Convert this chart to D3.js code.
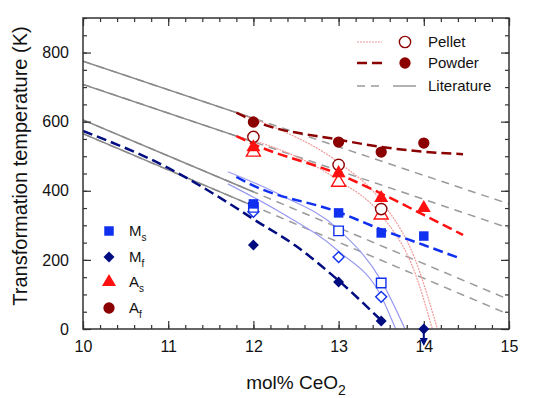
<!DOCTYPE html>
<html>
<head>
<meta charset="utf-8">
<script src="https://cdn.jsdelivr.net/npm/d3@7"></script>
<style>
  body { margin: 0; background: #fff; }
  svg { font-family: 'Liberation Sans', Arial, sans-serif; }
</style>
</head>
<body>
<div id="chart"></div>
<script>
// measured compositions (mol% CeO2)
const compositions = [12, 13, 13.5, 14];
const powderMs = [362, 336, 278, 269];
const powderMf = [243, 136, 23, 0];
const powderAs = [526, 451, 379, 350];
const powderAf = [599, 541, 512, 538];

const pelletComp = [12, 13, 13.5];
const pelletMs = [352, 284, 133];
const pelletMf = [339, 208, 93];
const pelletAs = [512, 425, 330];
const pelletAf = [556, 475, 347];

// fitted curves [mol%, K]
const fitPowderAf = [[11.8, 626], [12, 603], [13, 548], [13.5, 527], [14, 513], [14.46, 506]];
const fitPowderAs = [[11.8, 558], [12, 535], [13, 448], [13.5, 392], [14, 330], [14.46, 272]];
const fitPowderMs = [[11.8, 440], [12, 415], [13, 338], [13.5, 288], [14, 243], [14.42, 205]];
const fitPowderMf = [[10, 573], [11, 466], [11.8, 350], [12, 318], [12.5, 240], [13, 140], [13.5, 25]];

const fitPelletAf = [[11.8, 626], [12.3, 578], [13, 482], [13.5, 370], [13.9, 200], [14.16, 0]];
const fitPelletAs = [[11.8, 558], [12.3, 520], [13, 430], [13.5, 330], [13.9, 160], [14.1, 0]];
const fitPelletMs = [[11.7, 455], [12.3, 390], [13, 288], [13.5, 140], [13.78, 0]];
const fitPelletMf = [[11.7, 420], [12.3, 340], [13, 225], [13.5, 95], [13.67, 0]];

// literature lines: value at 10 and at 15 mol%, solid up to litSplit
const litAt10 = [775, 708, 605, 565];
const litAt15 = [362, 292, 85, 42];
const litSplit = 12;

const xTicks = [10, 11, 12, 13, 14, 15];
const yTicks = [0, 200, 400, 600, 800];

const colAf = '#8b0000', colAs = '#ff1010', colMs = '#1030f0', colMf = '#000c80';
const colPelletRed = '#f29a9a', colPelletBlue = '#9a9af2', colLit = '#9a9a9a';

const W = 539, H = 398;
const svg = d3.select('#chart').append('svg').attr('width', W).attr('height', H);

const x = d3.scaleLinear().domain([10, 15]).range([83, 509]);
const y = d3.scaleLinear().domain([0, 900]).range([329, 18]);

const defs = svg.append('defs');
defs.append('clipPath').attr('id', 'plotClip')
  .append('rect').attr('x', x(10)).attr('y', y(900)).attr('width', x(15) - x(10)).attr('height', y(0) - y(900));
defs.append('clipPath').attr('id', 'litClip')
  .append('rect').attr('x', x(10)).attr('y', y(900)).attr('width', x(litSplit) - x(10)).attr('height', y(0) - y(900));
defs.append('marker')
  .attr('id', 'arrow').attr('viewBox', '0 0 10 10').attr('refX', 5).attr('refY', 5)
  .attr('markerWidth', 4).attr('markerHeight', 4).attr('orient', 'auto')
  .append('path').attr('d', 'M0,0 L10,5 L0,10 Z').attr('fill', colMf);

const line = d3.line().x(d => x(d[0])).y(d => y(d[1])).curve(d3.curveMonotoneX);
const plot = svg.append('g').attr('clip-path', 'url(#plotClip)');

// literature: dashed everywhere, solid before the split
litAt10.forEach((v, i) => {
  const pts = [[10, v], [15, litAt15[i]]];
  plot.append('path').attr('d', line(pts)).attr('fill', 'none')
    .attr('stroke', colLit).attr('stroke-width', 1.5).attr('stroke-dasharray', '8,6');
  plot.append('path').attr('d', line(pts)).attr('fill', 'none').attr('clip-path', 'url(#litClip)')
    .attr('stroke', '#8a8a8a').attr('stroke-width', 1.5);
});

// pellet fits (thin; red ones dotted)
[[fitPelletAf, colPelletRed, '2,1'], [fitPelletAs, colPelletRed, '2,1'],
 [fitPelletMs, colPelletBlue, null], [fitPelletMf, colPelletBlue, null]]
  .forEach(([pts, c, dash]) => {
    plot.append('path').attr('d', line(pts)).attr('fill', 'none')
      .attr('stroke', c).attr('stroke-width', 1.2).attr('stroke-dasharray', dash);
  });

// powder fits (thick dashed)
[[fitPowderAf, colAf], [fitPowderAs, colAs], [fitPowderMs, colMs], [fitPowderMf, colMf]]
  .forEach(([pts, c]) => {
    plot.append('path').attr('d', line(pts)).attr('fill', 'none')
      .attr('stroke', c).attr('stroke-width', 2.5).attr('stroke-dasharray', '10,5');
  });

// axes: inward ticks on all four sides
function styleAxis(g) {
  g.select('.domain').remove();
  g.selectAll('.tick line').attr('stroke', '#333').attr('stroke-width', 1.2);
  g.selectAll('text').attr('fill', '#111').style('font-size', '16px')
    .style('font-family', "'Liberation Sans', Arial, sans-serif");
}
const xMinor = d3.range(10, 15.001, 0.2);
const yMinor = d3.range(0, 900.1, 50);

svg.append('g').attr('transform', `translate(0,${y(0)})`)
  .call(d3.axisBottom(x).tickValues(xMinor).tickSize(-4).tickFormat('')).call(styleAxis);
svg.append('g').attr('transform', `translate(0,${y(0)})`)
  .call(d3.axisBottom(x).tickValues(xTicks).tickSizeInner(-8).tickSizeOuter(0).tickPadding(12).tickFormat(d3.format('d'))).call(styleAxis);
svg.append('g').attr('transform', `translate(0,${y(900)})`)
  .call(d3.axisTop(x).tickValues(xMinor).tickSize(-4).tickFormat('')).call(styleAxis);
svg.append('g').attr('transform', `translate(0,${y(900)})`)
  .call(d3.axisTop(x).tickValues(xTicks).tickSize(-8).tickFormat('')).call(styleAxis);

svg.append('g').attr('transform', `translate(${x(10)},0)`)
  .call(d3.axisLeft(y).tickValues(yMinor).tickSize(-4).tickFormat('')).call(styleAxis);
svg.append('g').attr('transform', `translate(${x(10)},0)`)
  .call(d3.axisLeft(y).tickValues(yTicks).tickSizeInner(-8).tickSizeOuter(0).tickPadding(14)).call(styleAxis);
svg.append('g').attr('transform', `translate(${x(15)},0)`)
  .call(d3.axisRight(y).tickValues(yMinor).tickSize(-4).tickFormat('')).call(styleAxis);
svg.append('g').attr('transform', `translate(${x(15)},0)`)
  .call(d3.axisRight(y).tickValues(yTicks).tickSize(-8).tickFormat('')).call(styleAxis);

svg.append('rect').attr('x', x(10)).attr('y', y(900))
  .attr('width', x(15) - x(10)).attr('height', y(0) - y(900))
  .attr('fill', 'none').attr('stroke', '#333').attr('stroke-width', 1.5);

// markers (diamond = square rotated 45°)
const sym = {
  Ms: { gen: d3.symbol().type(d3.symbolSquare).size(90), rot: 0 },
  Mf: { gen: d3.symbol().type(d3.symbolSquare).size(60), rot: 45 },
  As: { gen: d3.symbol().type(d3.symbolTriangle).size(85), rot: 0 },
  Af: { gen: d3.symbol().type(d3.symbolCircle).size(100), rot: 0 }
};
function drawPoints(xs, ys, key, color, filled) {
  svg.append('g').selectAll('path').data(ys).join('path')
    .attr('transform', (d, i) => `translate(${x(xs[i])},${y(d)}) rotate(${sym[key].rot})`)
    .attr('d', sym[key].gen())
    .attr('fill', filled ? color : '#fff')
    .attr('stroke', color).attr('stroke-width', filled ? 0 : 1.4);
}
drawPoints(pelletComp, pelletMf, 'Mf', colMs, false);
drawPoints(pelletComp, pelletMs, 'Ms', colMs, false);
drawPoints(pelletComp, pelletAs, 'As', colAs, false);
drawPoints(pelletComp, pelletAf, 'Af', colAf, false);
drawPoints(compositions, powderMs, 'Ms', colMs, true);
drawPoints(compositions, powderMf, 'Mf', colMf, true);
drawPoints(compositions, powderAs, 'As', colAs, true);
drawPoints(compositions, powderAf, 'Af', colAf, true);

// Mf at 14 mol% is below 0 K: down arrow
svg.append('line')
  .attr('x1', x(14)).attr('x2', x(14)).attr('y1', y(0)).attr('y2', y(0) + 13)
  .attr('stroke', colMf).attr('stroke-width', 2).attr('marker-end', 'url(#arrow)');

// axis titles
svg.append('text').attr('x', (x(10) + x(15)) / 2).attr('y', 389)
  .attr('text-anchor', 'middle').style('font-size', '19px').attr('fill', '#111')
  .text('mol% CeO').append('tspan').attr('dy', 6).style('font-size', '14px').text('2');
svg.append('text').attr('transform', 'translate(27,166) rotate(-90)')
  .attr('text-anchor', 'middle').style('font-size', '20px').attr('fill', '#111')
  .text('Transformation temperature (K)');

// legend top-right
const lgT = svg.append('g');
const lgRows = [
  { label: 'Pellet', y: 42 },
  { label: 'Powder', y: 63 },
  { label: 'Literature', y: 86 }
];
lgT.append('line').attr('x1', 357).attr('x2', 382).attr('y1', lgRows[0].y).attr('y2', lgRows[0].y)
  .attr('stroke', colPelletRed).attr('stroke-width', 1.2).attr('stroke-dasharray', '2,1');
lgT.append('path').attr('transform', `translate(405,${lgRows[0].y})`).attr('d', sym.Af.gen())
  .attr('fill', '#fff').attr('stroke', colAf).attr('stroke-width', 1.4);
lgT.append('line').attr('x1', 357).attr('x2', 382).attr('y1', lgRows[1].y).attr('y2', lgRows[1].y)
  .attr('stroke', colAf).attr('stroke-width', 2.5).attr('stroke-dasharray', '10,5');
lgT.append('path').attr('transform', `translate(405,${lgRows[1].y})`).attr('d', sym.Af.gen())
  .attr('fill', colAf);
lgT.append('line').attr('x1', 357).attr('x2', 382).attr('y1', lgRows[2].y).attr('y2', lgRows[2].y)
  .attr('stroke', colLit).attr('stroke-width', 1.5).attr('stroke-dasharray', '8,6');
lgT.append('line').attr('x1', 393).attr('x2', 416).attr('y1', lgRows[2].y).attr('y2', lgRows[2].y)
  .attr('stroke', colLit).attr('stroke-width', 1.5);
lgT.selectAll('text').data(lgRows).join('text')
  .attr('x', 428).attr('y', d => d.y + 5).style('font-size', '15px').attr('fill', '#111')
  .text(d => d.label);

// legend bottom-left
const lgB = [
  { key: 'Ms', main: 'M', sub: 's', color: colMs, y: 231 },
  { key: 'Mf', main: 'M', sub: 'f', color: colMf, y: 257 },
  { key: 'As', main: 'A', sub: 's', color: colAs, y: 282 },
  { key: 'Af', main: 'A', sub: 'f', color: colAf, y: 308 }
];
lgB.forEach(d => {
  svg.append('path').attr('transform', `translate(109,${d.y}) rotate(${sym[d.key].rot})`)
    .attr('d', sym[d.key].gen()).attr('fill', d.color);
  const t = svg.append('text').attr('x', 129).attr('y', d.y + 5).style('font-size', '15px').attr('fill', '#111').text(d.main);
  t.append('tspan').attr('dy', 5).style('font-size', '10px').text(d.sub);
});
</script>
</body>
</html>
